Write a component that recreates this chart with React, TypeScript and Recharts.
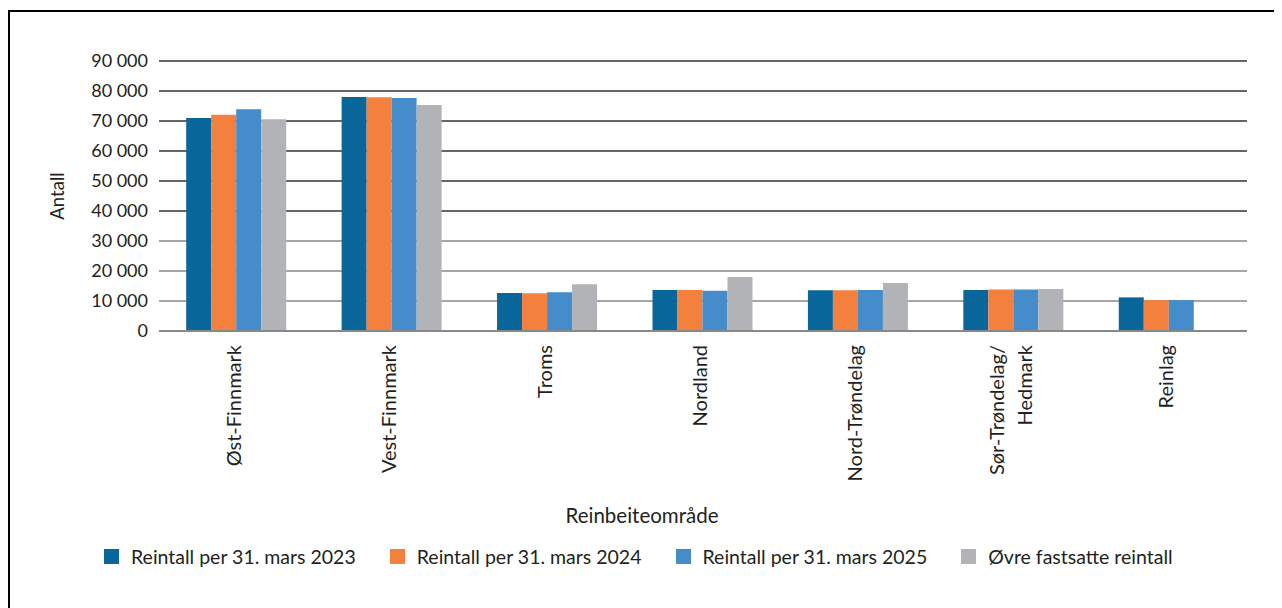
import { BarChart, Bar, XAxis, YAxis, CartesianGrid, Legend } from "recharts";

const categories = [
  "Øst-Finnmark",
  "Vest-Finnmark",
  "Troms",
  "Nordland",
  "Nord-Trøndelag",
  "Sør-Trøndelag/ Hedmark",
  "Reinlag",
];
const count2023 = [71000, 78000, 12700, 13700, 13600, 13700, 11200];
const count2024 = [72100, 77900, 12600, 13700, 13600, 13800, 10300];
const count2025 = [73900, 77700, 12900, 13400, 13700, 13800, 10300];
const upperLimit = [70600, 75300, 15600, 18000, 16000, 14000, null];
const yTicks = [0, 10000, 20000, 30000, 40000, 50000, 60000, 70000, 80000, 90000];

const seriesNames = [
  "Reintall per 31. mars 2023",
  "Reintall per 31. mars 2024",
  "Reintall per 31. mars 2025",
  "Øvre fastsatte reintall",
];
const colors = ["#08669a", "#f3803d", "#448dca", "#b2b3b6"];

const data = categories.map((name, i) => ({
  name,
  a: count2023[i],
  b: count2024[i],
  c: count2025[i],
  d: upperLimit[i],
}));

const FONT = "Lato, 'Noto Sans', sans-serif";
const TXT = "#231f20";

const fmt = (v: number) => String(v).replace(/\B(?=(\d{3})+(?!\d))/g, " ");

function CatTick(props: any) {
  const { x, y, payload } = props;
  const text: string = payload.value;
  const lines = text.includes("/ ") ? [text.split("/ ")[0] + "/", text.split("/ ")[1]] : [text];
  const lh = 28;
  const start = -((lines.length - 1) * lh) / 2;
  return (
    <g transform={`translate(${x - 3},${y + 6}) rotate(-90)`}>
      <text textAnchor="end" fill={TXT} fontSize={20} fontFamily={FONT}>
        {lines.map((l, i) => (
          <tspan key={i} x={0} y={start + i * lh} dy="0.35em">
            {l}
          </tspan>
        ))}
      </text>
    </g>
  );
}

function LegendContent() {
  return (
    <div style={{ display: "flex", alignItems: "center", fontFamily: FONT, fontSize: 19.5, color: TXT }}>
      {seriesNames.map((n, i) => (
        <div key={n} style={{ display: "flex", alignItems: "center", marginRight: 34 }}>
          <span style={{ width: 15, height: 15, background: colors[i], marginRight: 12, display: "inline-block" }} />
          <span>{n}</span>
        </div>
      ))}
    </div>
  );
}

export default function App() {
  const keys = ["a", "b", "c", "d"];
  return (
    <div
      style={{
        position: "relative",
        top: 2,
        width: 1270,
        height: 600,
        border: "2px solid #000",
        background: "#fff",
      }}
    >
      <BarChart
        width={1270}
        height={600}
        data={data}
        margin={{ top: 49, right: 33, left: 49, bottom: 111 }}
        barCategoryGap="17.5%"
        barGap={0}
      >
        <CartesianGrid
          vertical={false}
          horizontal={(p: any) => (
            <line
              key={p.key ?? p.index}
              x1={p.x1}
              x2={p.x2}
              y1={p.y1}
              y2={p.y2}
              stroke={p.y1 < 200 ? "#333" : "#888"}
              strokeWidth={1.5}
            />
          )}
        />
        <XAxis
          dataKey="name"
          interval={0}
          tickLine={false}
          axisLine={{ stroke: "#888", strokeWidth: 2 }}
          height={170}
          tick={<CatTick />}
          label={{
            content: () => (
              <text x={632} y={503} textAnchor="middle" dominantBaseline="central" fill={TXT} fontSize={20.5} fontFamily={FONT}>
                Reinbeiteområde
              </text>
            ),
          }}
        />
        <YAxis
          width={100}
          domain={[0, 90000]}
          ticks={yTicks}
          interval={0}
          tickLine={false}
          axisLine={false}
          tickMargin={5}
          tickFormatter={fmt}
          tick={{ fill: TXT, fontSize: 18, fontFamily: FONT }}
          label={{
            content: (p: any) => {
              const vb = p.viewBox || { x: 49, y: 49, height: 270 };
              const cx = vb.x - 2;
              const cy = vb.y + vb.height / 2;
              return (
                <text
                  x={cx}
                  y={cy}
                  transform={`rotate(-90, ${cx}, ${cy})`}
                  textAnchor="middle"
                  dominantBaseline="central"
                  fill={TXT}
                  fontSize={18.5}
                  fontFamily={FONT}
                >
                  Antall
                </text>
              );
            },
          }}
        />
        <Legend
          verticalAlign="middle"
          align="center"
          content={<LegendContent />}
          wrapperStyle={{ top: 533, left: 94, width: "auto", height: 24 }}
        />
        {keys.map((k, i) => (
          <Bar key={k} dataKey={k} name={seriesNames[i]} fill={colors[i]} isAnimationActive={false} />
        ))}
      </BarChart>
    </div>
  );
}
